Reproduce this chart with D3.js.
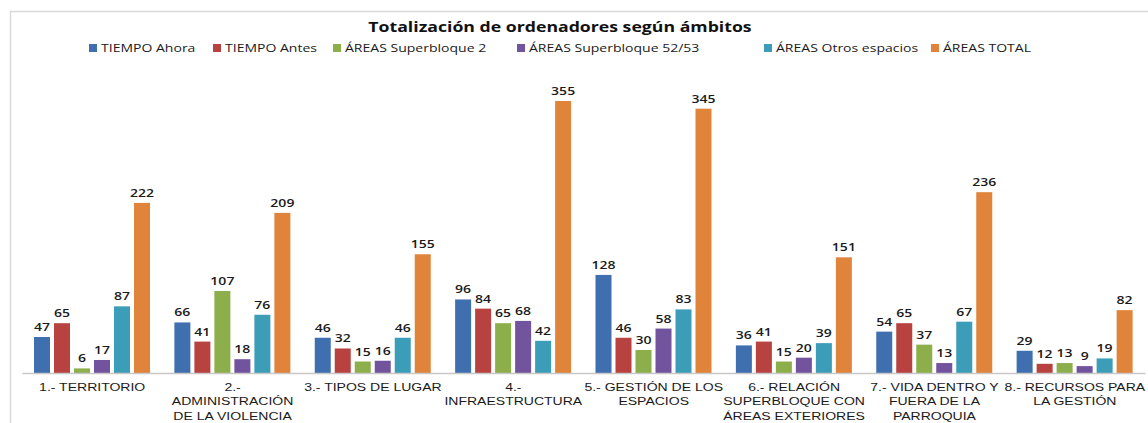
<!DOCTYPE html>
<html>
<head>
<meta charset="utf-8">
<script src="https://cdn.jsdelivr.net/npm/d3@7"></script>
<style>
  body { margin: 0; background: #fff; }
  svg { display: block; font-family: "Open Sans", "DejaVu Sans", sans-serif; }
</style>
</head>
<body>
<div id="chart"></div>
<script>
// categories, one array of lines per tick label
const categories = [
    ["1.- TERRITORIO"],
    ["2.-", "ADMINISTRACIÓN", "DE LA VIOLENCIA"],
    ["3.- TIPOS DE LUGAR"],
    ["4.-", "INFRAESTRUCTURA"],
    ["5.- GESTIÓN DE LOS", "ESPACIOS"],
    ["6.- RELACIÓN", "SUPERBLOQUE CON", "ÁREAS EXTERIORES"],
    ["7.- VIDA DENTRO Y", "FUERA DE LA", "PARROQUIA"],
    ["8.- RECURSOS PARA", "LA GESTIÓN"]
];

const seriesNames = [
    "TIEMPO Ahora",
    "TIEMPO Antes",
    "ÁREAS Superbloque 2",
    "ÁREAS Superbloque 52/53",
    "ÁREAS Otros espacios",
    "ÁREAS TOTAL"
];

const tiempoAhora   = [47, 66, 46, 96, 128, 36, 54, 29];
const tiempoAntes   = [65, 41, 32, 84, 46, 41, 65, 12];
const superbloque2  = [6, 107, 15, 65, 30, 15, 37, 13];
const superbloque52 = [17, 18, 16, 68, 58, 20, 13, 9];
const otrosEspacios = [87, 76, 46, 42, 83, 39, 67, 19];
const areasTotal    = [222, 209, 155, 355, 345, 151, 236, 82];

const seriesValues = [tiempoAhora, tiempoAntes, superbloque2, superbloque52, otrosEspacios, areasTotal];
const colors = ["#3f6fae", "#b8423f", "#8cae4b", "#72549e", "#3b9db8", "#e1843b"];

const width = 1148, height = 423;
const stretch = 1.22; // the original's lettering is wide

const svg = d3.select("#chart").append("svg")
    .attr("width", width)
    .attr("height", height);

// chart frame (runs off the right edge in the original)
svg.append("path")
    .attr("d", `M10.5,${height} V11.5 H${width}`)
    .attr("fill", "none")
    .attr("stroke", "#d9d9d9")
    .attr("stroke-width", 1.5);

// title
svg.append("g")
    .attr("transform", `translate(560,32) scale(${stretch},1)`)
    .append("text")
    .attr("text-anchor", "middle")
    .attr("font-size", 14.5)
    .attr("font-weight", "bold")
    .attr("fill", "#111")
    .text("Totalización de ordenadores según ámbitos");

// legend
const legendX = [89, 213, 333, 517, 764, 931];
const legend = svg.append("g");
seriesNames.forEach((name, i) => {
    let g = legend.append("g").attr("transform", `translate(${legendX[i]},52)`);
    g.append("rect")
        .attr("x", 0).attr("y", -8)
        .attr("width", 8).attr("height", 8)
        .attr("fill", colors[i]);
    g.append("text")
        .attr("transform", `translate(12,0) scale(${stretch},1)`)
        .attr("font-size", 11.5)
        .attr("fill", "#1a1a1a")
        .text(name);
});

// scales
const x0 = d3.scaleBand()
    .domain(d3.range(categories.length))
    .range([22, 1145]);

const x1 = d3.scaleBand()
    .domain(d3.range(seriesNames.length))
    .range([12, 128])
    .paddingInner(0.2);

const y = d3.scaleLinear()
    .domain([0, 355])
    .range([373, 101]);

// bars
const groups = svg.selectAll("g.cat")
    .data(categories)
    .enter()
    .append("g")
    .attr("class", "cat")
    .attr("transform", (d, i) => `translate(${x0(i)},0)`);

groups.each(function (d, ci) {
    let g = d3.select(this);
    seriesValues.forEach((vals, si) => {
        g.append("rect")
            .attr("x", x1(si))
            .attr("y", y(vals[ci]))
            .attr("width", x1.bandwidth())
            .attr("height", y(0) - y(vals[ci]))
            .attr("fill", colors[si]);
        g.append("text")
            .attr("transform", `translate(${x1(si) + x1.bandwidth() / 2},${y(vals[ci]) - 6}) scale(${stretch},1)`)
            .attr("text-anchor", "middle")
            .attr("font-size", 11.5)
            .attr("font-weight", 600)
            .attr("fill", "#1a1a1a")
            .text(vals[ci]);
    });
});

// x axis
const xAxis = d3.axisBottom(x0).tickSize(0).tickFormat("");
const axisG = svg.append("g")
    .attr("transform", `translate(0,${y(0)})`)
    .call(xAxis);
axisG.select(".domain").attr("stroke", "#c8c8c8").attr("stroke-width", 1.5);

axisG.selectAll(".tick").each(function (d) {
    let t = d3.select(this).append("text")
        .attr("transform", `translate(0,18) scale(${stretch},1)`)
        .attr("text-anchor", "middle")
        .attr("font-size", 11.5)
        .attr("fill", "#1a1a1a");
    categories[d].forEach((line, k) => {
        t.append("tspan")
            .attr("x", 0)
            .attr("dy", k === 0 ? 0 : 14.5)
            .text(line);
    });
});
</script>
</body>
</html>
